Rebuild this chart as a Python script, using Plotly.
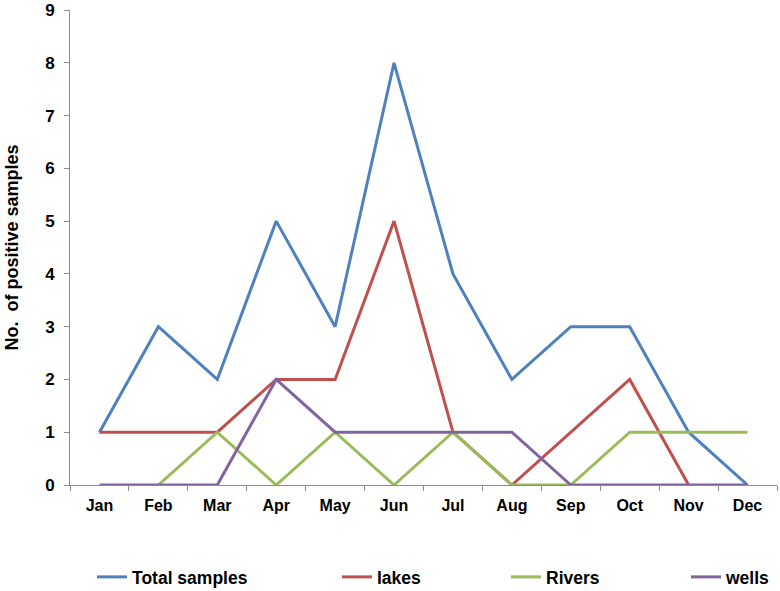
import plotly.graph_objects as go

months = ["Jan", "Feb", "Mar", "Apr", "May", "Jun", "Jul", "Aug", "Sep", "Oct", "Nov", "Dec"]
total_samples = [1, 3, 2, 5, 3, 8, 4, 2, 3, 3, 1, 0]
lakes = [1, 1, 1, 2, 2, 5, 1, 0, 1, 2, 0, None]
rivers = [None, 0, 1, 0, 1, 0, 1, 0, 0, 1, 1, 1]
wells = [0, 0, 0, 2, 1, 1, 1, 1, 0, 0, 0, 0]

series = [
    ("Total samples", total_samples, "#4F81BD"),
    ("lakes", lakes, "#C0504D"),
    ("Rivers", rivers, "#9BBB59"),
    ("wells", wells, "#8064A2"),
]
legend_names = ["legend", "legend2", "legend3", "legend4"]
legend_px = [92, 337, 506, 686]

font_family = "Arial, Liberation Sans, sans-serif"

fig = go.Figure()
for (name, vals, color), lg in zip(series, legend_names):
    fig.add_trace(go.Scatter(
        x=months, y=vals, name=name, mode="lines",
        line=dict(color=color, width=3),
        legend=lg,
    ))

layout_legends = {}
for lg, px in zip(legend_names, legend_px):
    layout_legends[lg] = dict(
        orientation="h", xref="container", yref="container",
        x=px / 780, xanchor="left", y=1 - 577 / 591, yanchor="middle",
        font=dict(size=17.5, family=font_family, color="black", weight="bold"),
        itemwidth=30, bgcolor="rgba(0,0,0,0)", borderwidth=0,
    )

fig.update_layout(
    width=780, height=591,
    margin=dict(l=70, r=3, t=10, b=106, autoexpand=False),
    plot_bgcolor="white", paper_bgcolor="white",
    font=dict(family=font_family, color="black"),
    showlegend=True,
    xaxis=dict(
        type="category", range=[-0.5, 11.5],
        showline=True, linecolor="#8C8C8C", linewidth=1,
        ticks="outside", tickson="boundaries", ticklen=5, tickcolor="#8C8C8C",
        showgrid=False, zeroline=False, automargin=False,
        ticklabelstandoff=6,
        tickfont=dict(size=16, weight="bold", color="black"),
    ),
    yaxis=dict(
        range=[0, 9], dtick=1,
        showline=True, linecolor="#8C8C8C", linewidth=1,
        ticks="outside", ticklen=5, tickcolor="#8C8C8C",
        showgrid=False, zeroline=False, automargin=False,
        ticklabelstandoff=6,
        tickfont=dict(size=17, weight="bold", color="black"),
        title=dict(text="No.  of positive samples", font=dict(size=18, weight="bold", color="black"), standoff=21),
    ),
    **layout_legends,
)

fig.write_html("out.html", config={"displayModeBar": False},
               post_script="document.body.style.margin='0';")
